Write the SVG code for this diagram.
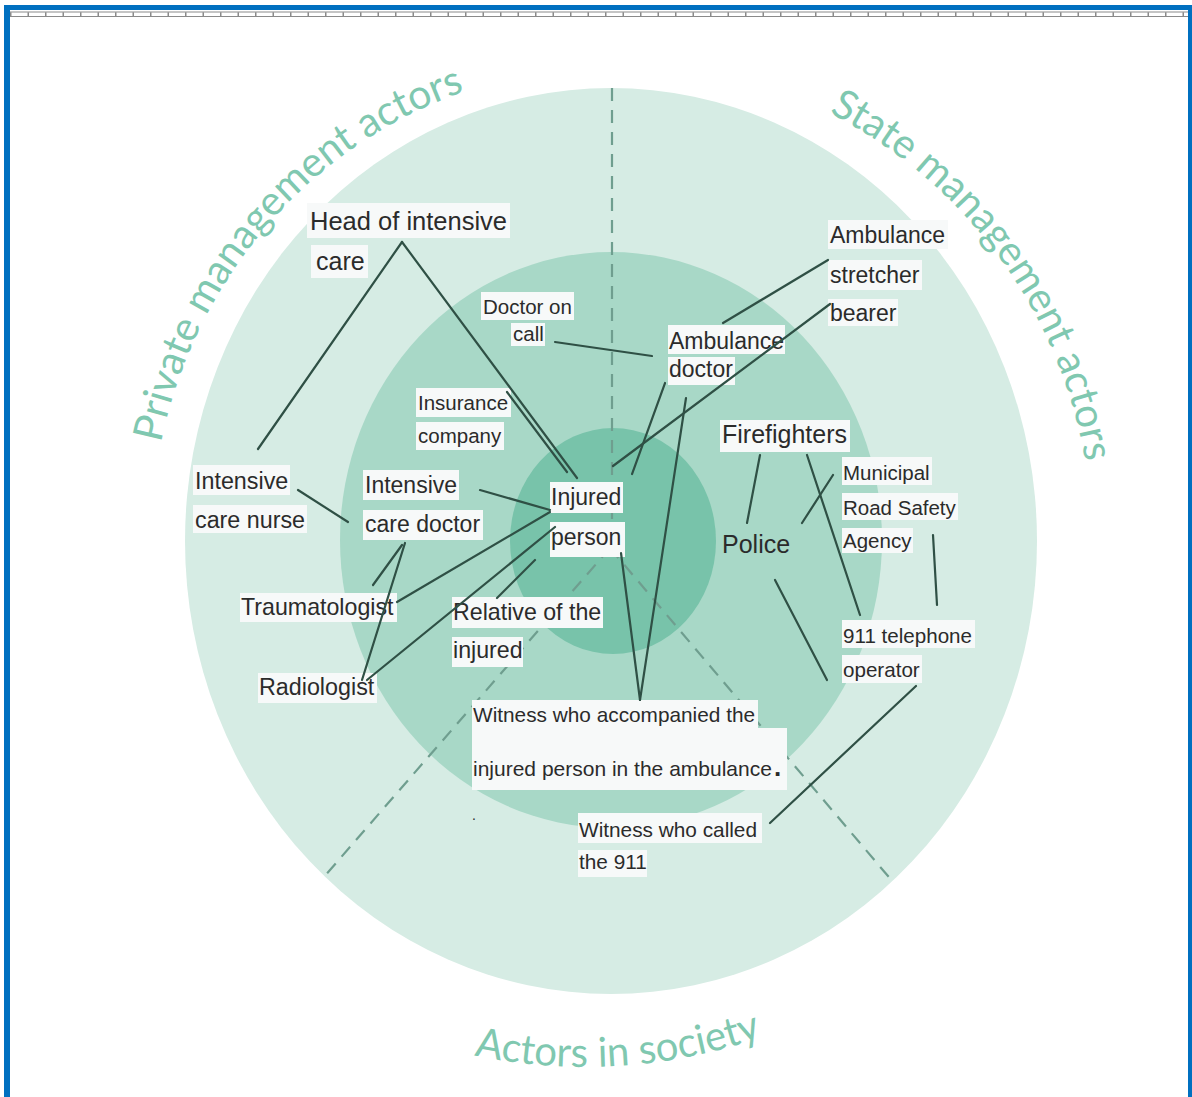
<svg xmlns="http://www.w3.org/2000/svg" width="1192" height="1097" viewBox="0 0 1192 1097">
<style>
.lbl{font-family:"Liberation Sans",Arial,sans-serif;fill:#2b2b2b}
.box{fill:#f7f9f9}
.title{font-family:Lato,"Open Sans",sans-serif;font-weight:400;fill:#80c8b0;font-size:41px}
.conn line{stroke:#2f5045;stroke-width:2.2;stroke-linecap:round}
.dash line{stroke:#6f9e8f;stroke-width:2.2;stroke-dasharray:13 9}
</style>
<defs>
<path id="arcL" d="M 161 443 A 460 474 0 0 1 516 77"/>
<path id="arcR" d="M 829 113 A 481 480 0 0 1 1090 499"/>
<path id="arcB" d="M 420 1041 A 537 537 0 0 0 800 1022"/>
</defs>
<rect width="1192" height="1097" fill="#ffffff"/>
<!-- frame -->
<rect x="4" y="5" width="1188" height="5" fill="#0070c0"/>
<rect x="4" y="5" width="6" height="1092" fill="#0070c0"/>
<rect x="1188" y="5" width="4" height="1092" fill="#0070c0"/>
<g id="ruler">
<line x1="10" y1="12" x2="1188" y2="12" stroke="#8a8a8a" stroke-width="1"/>
<line x1="10" y1="16.5" x2="1188" y2="16.5" stroke="#8a8a8a" stroke-width="1"/>
<line x1="10" y1="14.2" x2="1188" y2="14.2" stroke="#8a8a8a" stroke-width="4" stroke-dasharray="1.5 16"/>
</g>
<!-- rings -->
<g id="rings">
<ellipse cx="611" cy="541" rx="426" ry="453" fill="#d6ece4"/>
<ellipse cx="611" cy="540" rx="271" ry="288" fill="#a8d8c7"/>
<ellipse cx="613" cy="541" rx="103" ry="113" fill="#78c3aa"/>
</g>
<g class="dash" id="sectors">
<line x1="612" y1="88" x2="612" y2="546"/>
<line x1="610" y1="548" x2="323" y2="878"/>
<line x1="610" y1="548" x2="893" y2="882"/>
</g>
<g id="titles">
<text class="title"><textPath href="#arcL" textLength="486" lengthAdjust="spacingAndGlyphs">Private management actors</textPath></text>
<text class="title"><textPath href="#arcR" textLength="449" lengthAdjust="spacingAndGlyphs">State management actors</textPath></text>
<text class="title" font-size="39"><textPath href="#arcB" startOffset="56" textLength="292" lengthAdjust="spacingAndGlyphs">Actors in society</textPath></text>
</g>
<!-- nodes -->
<g id="head-icu">
<rect class="box" x="307" y="203" width="203" height="35"/>
<text class="lbl" x="310" y="230" font-size="25.5">Head of intensive</text>
<rect class="box" x="311" y="245" width="57" height="33"/>
<text class="lbl" x="316" y="270" font-size="25">care</text>
</g>
<g id="doctor-on-call">
<rect class="box" x="481" y="292" width="93" height="28"/>
<text class="lbl" x="483" y="314" font-size="20.5">Doctor on</text>
<rect class="box" x="511" y="323" width="34" height="23"/>
<text class="lbl" x="513" y="341" font-size="20.5">call</text>
</g>
<g id="insurance">
<rect class="box" x="416" y="388" width="95" height="29"/>
<text class="lbl" x="418" y="410" font-size="20.5">Insurance</text>
<rect class="box" x="416" y="422" width="88" height="28"/>
<text class="lbl" x="418" y="443" font-size="20.5">company</text>
</g>
<g id="stretcher-bearer">
<rect class="box" x="828" y="220" width="120" height="29"/>
<text class="lbl" x="830" y="243" font-size="23">Ambulance</text>
<rect class="box" x="828" y="260" width="94" height="30"/>
<text class="lbl" x="830" y="283" font-size="23">stretcher</text>
<rect class="box" x="828" y="299" width="70" height="27"/>
<text class="lbl" x="830" y="321" font-size="23">bearer</text>
</g>
<g id="ambulance-doctor">
<rect class="box" x="668" y="325" width="117" height="29"/>
<text class="lbl" x="669" y="349" font-size="23">Ambulance</text>
<rect class="box" x="668" y="357" width="67" height="28"/>
<text class="lbl" x="669" y="377" font-size="23">doctor</text>
</g>
<g id="firefighters">
<rect class="box" x="720" y="420" width="130" height="32"/>
<text class="lbl" x="722" y="443" font-size="25">Firefighters</text>
</g>
<g id="road-safety">
<rect class="box" x="842" y="457" width="90" height="28"/>
<text class="lbl" x="843" y="480" font-size="20.5">Municipal</text>
<rect class="box" x="842" y="493" width="116" height="27"/>
<text class="lbl" x="843" y="515" font-size="20.5">Road Safety</text>
<rect class="box" x="842" y="528" width="71" height="25"/>
<text class="lbl" x="843" y="548" font-size="20.5">Agency</text>
</g>
<g id="police">
<text class="lbl" x="722" y="553" font-size="25" fill="#222">Police</text>
</g>
<g id="operator-911">
<rect class="box" x="842" y="620" width="133" height="28"/>
<text class="lbl" x="843" y="643" font-size="20.6">911 telephone</text>
<rect class="box" x="842" y="655" width="80" height="28"/>
<text class="lbl" x="843" y="677" font-size="20.6">operator</text>
</g>
<g id="icu-nurse">
<rect class="box" x="193" y="465" width="97" height="30"/>
<text class="lbl" x="195" y="489" font-size="23.3">Intensive</text>
<rect class="box" x="193" y="505" width="114" height="28"/>
<text class="lbl" x="195" y="528" font-size="23.3">care nurse</text>
</g>
<g id="icu-doctor">
<rect class="box" x="363" y="470" width="96" height="30"/>
<text class="lbl" x="365" y="493" font-size="23">Intensive</text>
<rect class="box" x="363" y="510" width="120" height="30"/>
<text class="lbl" x="365" y="532" font-size="23">care doctor</text>
</g>
<g id="injured-person">
<rect class="box" x="550" y="482" width="73" height="31"/>
<text class="lbl" x="551" y="505" font-size="23">Injured</text>
<rect class="box" x="550" y="522" width="75" height="35"/>
<text class="lbl" x="551" y="545" font-size="23">person</text>
</g>
<g id="traumatologist">
<rect class="box" x="240" y="593" width="157" height="29"/>
<text class="lbl" x="241" y="615" font-size="23.2">Traumatologist</text>
</g>
<g id="relative">
<rect class="box" x="452" y="597" width="151" height="31"/>
<text class="lbl" x="453" y="620" font-size="23.2">Relative of the</text>
<rect class="box" x="452" y="637" width="71" height="30"/>
<text class="lbl" x="453" y="658" font-size="23.2">injured</text>
</g>
<g id="radiologist">
<rect class="box" x="258" y="673" width="119" height="30"/>
<text class="lbl" x="259" y="695" font-size="23.3">Radiologist</text>
</g>
<g id="witness-accompanied">
<rect class="box" x="472" y="700" width="286" height="29"/>
<rect class="box" x="472" y="728" width="315" height="62"/>
<text class="lbl" x="473" y="722" font-size="20.8">Witness who accompanied the</text>
<text class="lbl" x="473" y="776" font-size="21">injured person in the ambulance<tspan font-weight="bold" font-size="26" dx="2">.</tspan></text>
<text class="lbl" x="472" y="820" font-size="14">.</text>
</g>
<g id="witness-called">
<rect class="box" x="578" y="813" width="184" height="30"/>
<text class="lbl" x="579" y="837" font-size="20.8">Witness who called</text>
<rect class="box" x="578" y="850" width="69" height="27"/>
<text class="lbl" x="579" y="869" font-size="20.8">the 911</text>
</g>
<!-- connectors -->
<g class="conn" id="connectors">
<line x1="402" y1="242" x2="258" y2="449"/>
<line x1="402" y1="242" x2="577" y2="478"/>
<line x1="507" y1="392" x2="567" y2="472"/>
<line x1="555" y1="342" x2="652" y2="356"/>
<line x1="828" y1="260" x2="723" y2="323"/>
<line x1="830" y1="304" x2="613" y2="466"/>
<line x1="665" y1="383" x2="632" y2="474"/>
<line x1="686" y1="398" x2="640" y2="700"/>
<line x1="621" y1="553" x2="640" y2="700"/>
<line x1="480" y1="490" x2="550" y2="510"/>
<line x1="298" y1="490" x2="348" y2="522"/>
<line x1="397" y1="602" x2="550" y2="512"/>
<line x1="373" y1="585" x2="402" y2="545"/>
<line x1="362" y1="680" x2="405" y2="543"/>
<line x1="367" y1="680" x2="555" y2="527"/>
<line x1="497" y1="598" x2="535" y2="560"/>
<line x1="760" y1="455" x2="747" y2="523"/>
<line x1="807" y1="455" x2="860" y2="615"/>
<line x1="802" y1="523" x2="833" y2="475"/>
<line x1="933" y1="535" x2="937" y2="605"/>
<line x1="775" y1="580" x2="827" y2="680"/>
<line x1="916" y1="686" x2="770" y2="823"/>
</g>
</svg>
